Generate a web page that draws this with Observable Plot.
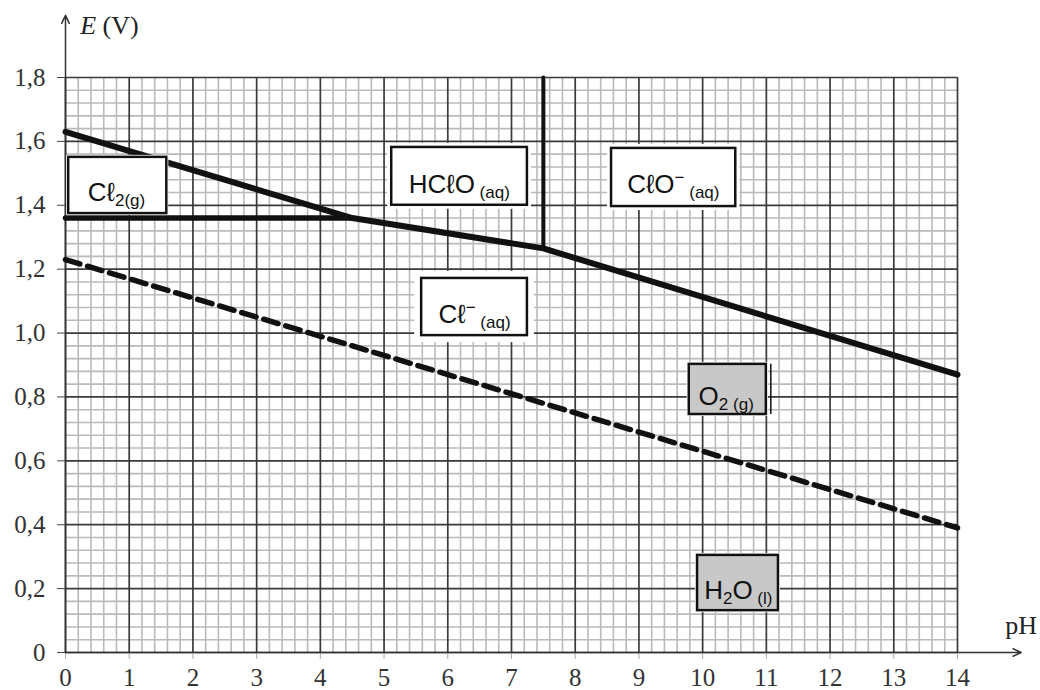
<!DOCTYPE html>
<html>
<head>
<meta charset="utf-8">
<script src="https://cdn.jsdelivr.net/npm/d3@7"></script>
<script src="https://cdn.jsdelivr.net/npm/@observablehq/plot@0.6"></script>
<style>
  html, body { margin: 0; padding: 0; background: #fff; }
  #chart svg { display: block; }
</style>
</head>
<body>
<div id="chart"></div>
<script>
// ---- data ----
const xTicks = [0, 1, 2, 3, 4, 5, 6, 7, 8, 9, 10, 11, 12, 13, 14];
const yTicks = [0, 0.2, 0.4, 0.6, 0.8, 1.0, 1.2, 1.4, 1.6, 1.8];
const yTickLabels = ["0", "0,2", "0,4", "0,6", "0,8", "1,0", "1,2", "1,4", "1,6", "1,8"];
const xMinor = d3.range(0, 71).map(i => i / 5).filter(v => !xTicks.includes(v));
const yMinor = d3.range(0, 46).map(i => i / 25).filter(v => Math.abs(v * 5 - Math.round(v * 5)) > 1e-6);

// boundary lines (pH, E)
const mainBoundary = [
  {pH: 0, E: 1.63},
  {pH: 4.5, E: 1.36},
  {pH: 7.5, E: 1.265},
  {pH: 14, E: 0.87}
];
const cl2Horizontal = [{pH: 0, E: 1.36}, {pH: 4.5, E: 1.36}];
const hcloVertical = [{pH: 7.5, E: 1.265}, {pH: 7.5, E: 1.8}];
const waterLine = [{pH: 0, E: 1.23}, {pH: 14, E: 0.39}];

// species boxes (pH range, E range)
const boxes = [
  {name: "Cl2",  x1: 0.05, x2: 1.59,  y1: 1.374, y2: 1.55,  fill: "#ffffff", halo: 2},
  {name: "HClO", x1: 5.12, x2: 7.25,  y1: 1.400, y2: 1.581, fill: "#ffffff", halo: 4},
  {name: "ClO",  x1: 8.57, x2: 10.52, y1: 1.396, y2: 1.578, fill: "#ffffff", halo: 4},
  {name: "Cl",   x1: 5.59, x2: 7.25,  y1: 0.992, y2: 1.171, fill: "#ffffff", halo: 7},
  {name: "O2",   x1: 9.79, x2: 11.0,  y1: 0.745, y2: 0.902, fill: "#c8c8c8", halo: 2},
  {name: "H2O",  x1: 9.92, x2: 11.19, y1: 0.131, y2: 0.304, fill: "#c8c8c8", halo: 2}
];
const o2Edge = [{pH: 11.07, E1: 0.745, E2: 0.902}];

// labels: parts = [text, kind] kind: "m" main, "s" subscript, "p" superscript
const labels = [
  {pH: 0.80, E: 1.438, parts: [["Cℓ", "m"], ["2(g)", "s"]]},
  {pH: 6.18, E: 1.466, parts: [["HCℓO", "m"], [" (aq)", "s"]]},
  {pH: 9.54, E: 1.463, parts: [["CℓO", "m"], ["−", "p"], [" (aq)", "s"]]},
  {pH: 6.42, E: 1.058, parts: [["Cℓ", "m"], ["−", "p"], [" (aq)", "s"]]},
  {pH: 10.37, E: 0.800, parts: [["O", "m"], ["2 (g)", "s"]]},
  {pH: 10.56, E: 0.195, parts: [["H", "m"], ["2", "s"], ["O", "m"], [" (l)", "s"]]}
];
const axisTitles = [
  {pH: 0.23, E: 1.962, anchor: "start", parts: [["E", "i"], [" (V)", "n"]]},
  {pH: 15.0, E: 0.085, anchor: "middle", parts: [["pH", "n"]]}
];

const joined = d => d.parts.map(p => p[0]).join("");

const plot = Plot.plot({
  width: 1040,
  height: 690,
  marginLeft: 65,
  marginRight: 83,
  marginTop: 77,
  marginBottom: 38,
  x: {domain: [0, 14]},
  y: {domain: [0, 1.8]},
  style: {background: "#fff", fontFamily: "Liberation Serif"},
  marks: [
    // minor grid
    Plot.ruleX(xMinor, {y1: 0, y2: 1.8, stroke: "#bababa", strokeWidth: 1.6}),
    Plot.ruleY(yMinor, {x1: 0, x2: 14, stroke: "#bababa", strokeWidth: 1.6}),
    // major grid
    Plot.ruleX(xTicks, {y1: 0, y2: 1.8, stroke: "#3a3a3a", strokeWidth: 1.7}),
    Plot.ruleY(yTicks, {x1: 0, x2: 14, stroke: "#3a3a3a", strokeWidth: 1.7}),
    // axes
    Plot.axisY({ticks: yTicks, tickFormat: d => yTickLabels[Math.round(d * 5)], tickSize: 8, tickPadding: 12,
      fontSize: 25, fontFamily: "Liberation Serif", stroke: "#444", fill: "#333", label: null}),
    Plot.axisX({ticks: xTicks, tickFormat: d => String(d), tickSize: 7, tickPadding: 9,
      fontSize: 25, fontFamily: "Liberation Serif", stroke: "#aaa", fill: "#333", label: null}),
    Plot.arrow([{a: 0}], {x1: 0, y1: 0, x2: 0, y2: 1.995, stroke: "#333", strokeWidth: 1.5, headLength: 9, headAngle: 50}),
    Plot.arrow([{a: 0}], {x1: 0, y1: 0, x2: 15, y2: 0, stroke: "#333", strokeWidth: 1.5, headLength: 9, headAngle: 50}),
    // boundaries
    Plot.line(waterLine, {x: "pH", y: "E", stroke: "#111", strokeWidth: 5.5, strokeDasharray: "15,8"}),
    Plot.line(cl2Horizontal, {x: "pH", y: "E", stroke: "#111", strokeWidth: 5.5}),
    Plot.line(hcloVertical, {x: "pH", y: "E", stroke: "#111", strokeWidth: 4}),
    Plot.line(mainBoundary, {x: "pH", y: "E", stroke: "#111", strokeWidth: 6, strokeLinejoin: "round"}),
    // boxes: white halo then framed box
    ...boxes.map(b => Plot.rect([b], {x1: "x1", x2: "x2", y1: "y1", y2: "y2", fill: "#fff", inset: -b.halo})),
    Plot.ruleX(o2Edge, {x: "pH", y1: "E1", y2: "E2", stroke: "#111", strokeWidth: 1.5}),
    Plot.rect(boxes, {x1: "x1", x2: "x2", y1: "y1", y2: "y2", fill: "fill", stroke: "#111", strokeWidth: 2.5}),
    // labels
    Plot.text(labels, {x: "pH", y: "E", text: joined, fontFamily: "Liberation Sans", fontSize: 26, fill: "#111", textAnchor: "middle"}),
    Plot.text(axisTitles, {x: "pH", y: "E", text: joined, fontFamily: "Liberation Serif", fontSize: 26, fill: "#222", textAnchor: "start"})
  ]
});

document.getElementById("chart").appendChild(plot);

// rich text: subscripts / superscripts / italics
const all = [...labels, ...axisTitles];
d3.select(plot).selectAll("text").each(function() {
  const el = d3.select(this);
  const txt = this.textContent;
  const item = all.find(d => joined(d) === txt);
  if (!item) return;
  if (item.anchor) el.attr("text-anchor", item.anchor);
  el.text(null);
  let shift = 0;
  item.parts.forEach(([t, kind]) => {
    const ts = el.append("tspan").text(t);
    let target = 0;
    if (kind === "s") { ts.attr("font-size", 17); target = 5; }
    else if (kind === "p") { ts.attr("font-size", 17); target = -10; }
    else if (kind === "i") { ts.attr("font-style", "italic"); }
    ts.attr("dy", target - shift);
    shift = target;
  });
});
</script>
</body>
</html>
